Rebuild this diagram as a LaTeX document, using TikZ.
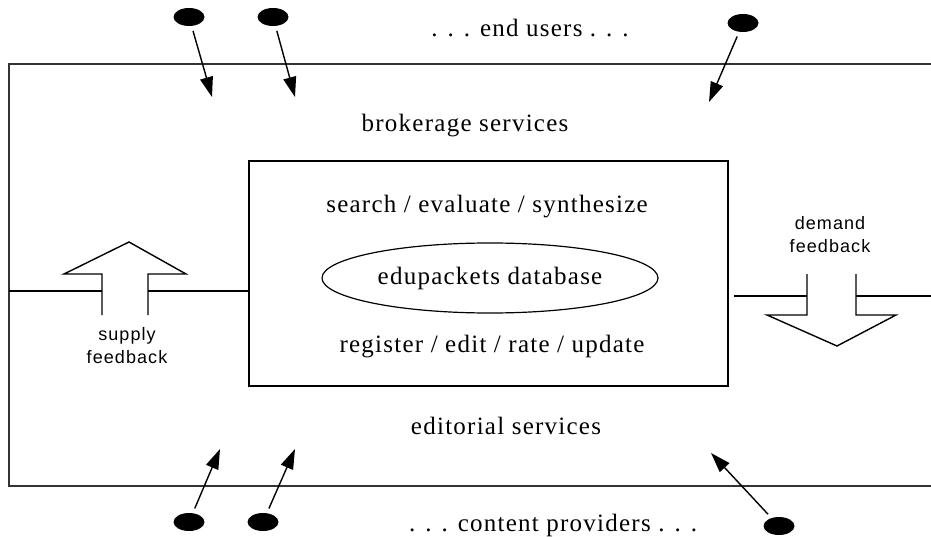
\documentclass[tikz,border=0pt]{standalone}
\usepackage{fontspec}
\setmainfont{Liberation Serif}
\newfontfamily\serifsp[LetterSpace=5]{Liberation Serif}
\newfontfamily\sanssp[LetterSpace=6]{Liberation Sans}
\usetikzlibrary{shapes.geometric,arrows.meta}
\begin{document}
\begin{tikzpicture}[x=1pt,y=-1pt,
  dot/.style={ellipse,fill=black,minimum width=31pt,minimum height=18pt,inner sep=0pt},
  arr/.style={line width=1.4pt,-{Triangle[length=20pt,width=13pt]},shorten <=5pt},
  frame/.style={line width=1.4pt,draw=black!80},
  lbl/.style={font=\serifsp\fontsize{25}{29}\selectfont,inner sep=0pt},
  slbl/.style={font=\sanssp\fontsize{18}{23}\selectfont,align=center,inner sep=0pt},
  blk/.style={line width=1.4pt,line join=miter}]
\useasboundingbox (0,0) rectangle (931,537);
% outer frame
\draw[frame] (931,64) -- (9,64) -- (9,486) -- (931,486);
% inner box
\node[draw,line width=1.3pt,minimum width=479pt,minimum height=225pt,inner sep=0pt] (inner) at (488.5,273.5) {};
\node[ellipse,draw,line width=1.2pt,minimum width=336pt,minimum height=70pt,inner sep=0pt,font=\serifsp\fontsize{25}{29}\selectfont] (db) at (490,278) {edupackets database};
% texts
\node[lbl] (eu) at (530,28) {. . . end users . . .};
\node[lbl] (brok) at (465,126) {brokerage services};
\node[lbl] (seq) at (487,207) {search / evaluate / synthesize};
\node[lbl] (reg) at (492,347) {register / edit / rate / update};
\node[lbl] (edit) at (506,426) {editorial services};
\node[lbl] (cp) at (553,525) {. . . content providers . . .};
\node[slbl] (sup) at (127,346) {supply\\feedback};
\node[slbl] (dem) at (830,235) {demand\\feedback};
% dots and arrows (top)
\node[dot] (d1) at (189,17) {};
\node[dot] (d2) at (273,17) {};
\node[dot] (d3) at (743,23) {};
\coordinate (t1) at (212,97);
\coordinate (t2) at (295,97);
\coordinate (t3) at (709,102);
\draw[arr] (d1) -- (t1);
\draw[arr] (d2) -- (t2);
\draw[arr] (d3) -- (t3);
% dots and arrows (bottom)
\node[dot] (b1) at (189,522) {};
\node[dot] (b2) at (263,522) {};
\node[dot] (b3) at (779,526) {};
\coordinate (u1) at (220,449);
\coordinate (u2) at (295,449);
\coordinate (u3) at (711,453);
\draw[arr] (b1) -- (u1);
\draw[arr] (b2) -- (u2);
\draw[arr] (b3) -- (u3);
% supply feedback block arrow
\draw[blk] (102,315) -- (102,274) -- (64,274) -- (129,242) -- (186,274) -- (148,274) -- (148,315);
\draw[line width=1.3pt] (9,291) -- (102,291);
\draw[line width=1.3pt] (148,291) -- (inner.west |- 0,291);
% demand feedback block arrow
\draw[blk] (807,274) -- (807,315) -- (767,315) -- (837,346) -- (896,315) -- (856,315) -- (856,274);
\draw[line width=1.3pt] (734,296) -- (807,296);
\draw[line width=1.3pt] (856,296) -- (931,296);
\end{tikzpicture}
\end{document}
